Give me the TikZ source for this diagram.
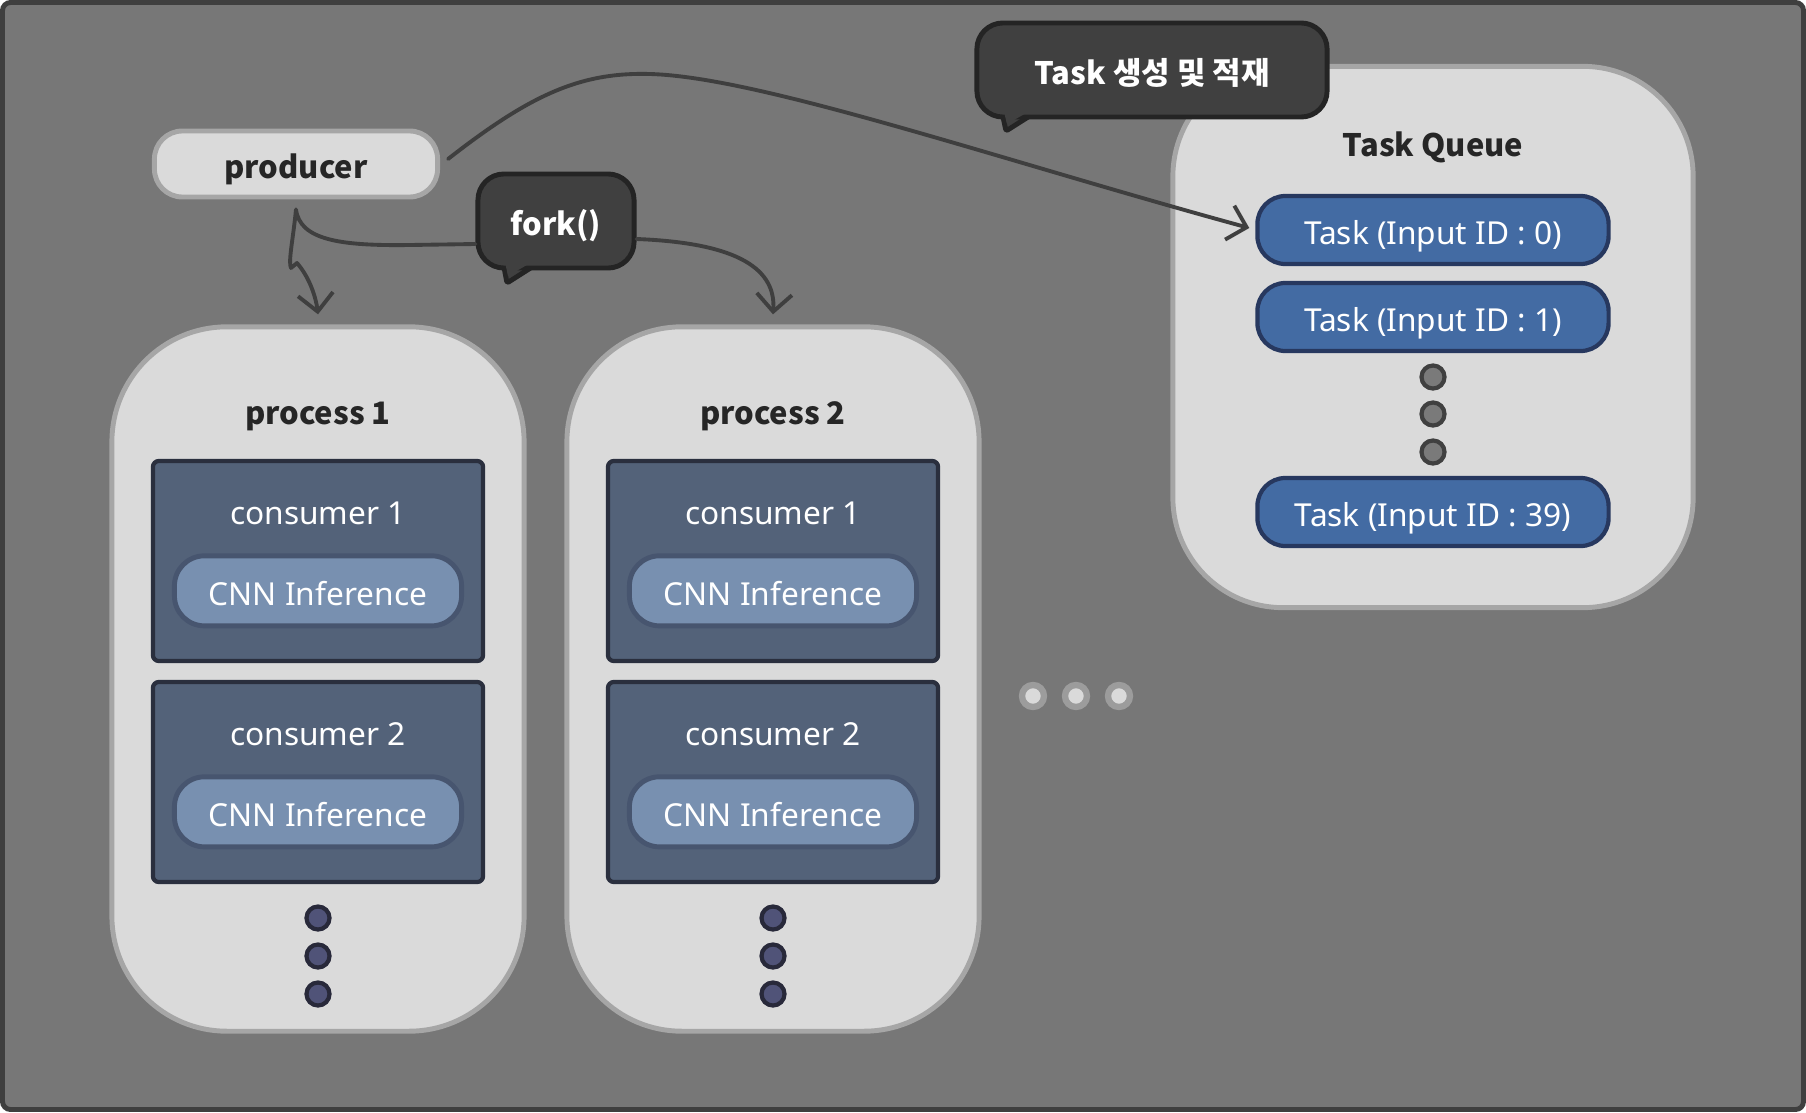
\documentclass[tikz,border=0pt]{standalone}
\usepackage{fontspec}
\setmainfont{Noto Sans}
\newfontfamily\krfont{Noto Sans CJK KR}
\usetikzlibrary{calc, arrows.meta, positioning}

\definecolor{bgc}{HTML}{777777}
\definecolor{framec}{HTML}{3F3F3F}
\definecolor{lightc}{HTML}{DADADA}
\definecolor{lightb}{HTML}{A6A6A6}
\definecolor{inkc}{HTML}{262626}
\definecolor{bubc}{HTML}{404040}
\definecolor{bubb}{HTML}{242424}
\definecolor{taskc}{HTML}{436BA3}
\definecolor{taskb}{HTML}{27385F}
\definecolor{consc}{HTML}{536279}
\definecolor{consb}{HTML}{2A2F3E}
\definecolor{cnnc}{HTML}{7890B0}
\definecolor{cnnb}{HTML}{47556F}
\definecolor{dotdc}{HTML}{505378}
\definecolor{dotdb}{HTML}{28293A}
\definecolor{dotgc}{HTML}{7A7A7A}
\definecolor{dotlb}{HTML}{9C9C9C}

\tikzset{lbox/.style={draw=lightb, fill=lightc, line width=1.4pt},
        proc/.style={lbox, minimum width=4.12cm, minimum height=7.04cm, rounded corners=1.15cm},
        btxt/.style={text=inkc, font=\fontsize{8.8}{11}\krfont\bfseries, text height=0.85em, text depth=0pt},
        wtxt/.style={text=white, font=\fontsize{9}{11}\selectfont, text height=0.85em, text depth=0pt},
        cons/.style={draw=consb, fill=consc, line width=1.2pt, minimum width=3.3cm, minimum height=2cm, rounded corners=0.06cm},
        cnn/.style={wtxt, draw=cnnb, fill=cnnc, line width=1.4pt, minimum width=2.87cm, minimum height=0.7cm, rounded corners=0.3cm},
        task/.style={wtxt, draw=taskb, fill=taskc, line width=1.2pt, minimum width=3.51cm, minimum height=0.68cm, rounded corners=0.28cm},
        bub/.style={draw=bubb, fill=bubc, line width=1.4pt, rounded corners=0.26cm, text=white, font=\fontsize{8.8}{11}\krfont\bfseries, text height=0.85em, text depth=0pt},
        tail/.style={draw=bubb, fill=bubc, line width=1.4pt, line join=round, rounded corners=0.02cm},
        dotd/.style={circle, draw=dotdb, fill=dotdc, line width=1.2pt, minimum size=0.23cm, inner sep=0pt},
        dotg/.style={circle, draw=bubc, fill=dotgc, line width=1.2pt, minimum size=0.23cm, inner sep=0pt},
        dotl/.style={circle, draw=dotlb, fill=lightc, line width=1.8pt, minimum size=0.22cm, inner sep=0pt},
        conn/.style={draw=framec, line width=1.1pt, line cap=round, line join=round},
        tip/.style={-{Straight Barb[length=5pt, width=10pt, line width=1.1pt]}}}

\begin{document}
\begin{tikzpicture}[x=0.01cm, y=-0.01cm]
    \useasboundingbox (0,0) rectangle (1806,1112);
    \draw[line width=1.4pt, draw=framec, fill=bgc, rounded corners=0.08cm] (2.5,2.5) rectangle (1803.5,1109.5);

    % producer
    \node[lbox, btxt, minimum width=2.83cm, minimum height=0.66cm, rounded corners=0.28cm] (prod) at (296,164) {producer};

    % processes with their consumers
    \foreach \p/\x in {1/318, 2/773} {
      \node[proc] (p\p) at (\x,679) {};
      \node[btxt] (p\p t) at (\x,410) {process \p};
      \foreach \c/\y in {1/561, 2/782} {
        \node[cons] (p\p c\c) at (\x,\y) {};
        \node[wtxt] (p\p c\c t) at ($(p\p c\c.north)+(0,51)$) {consumer \c};
        \node[cnn] (p\p n\c) at ($(p\p c\c.north)+(0,132)$) {CNN Inference};
      }
      \foreach \y in {918,956,994}
        \node[dotd] at (\x,\y) {};
    }

    % more processes
    \foreach \x in {1033,1076,1119}
      \node[dotl] at (\x,696) {};

    % task queue
    \node[lbox, minimum width=5.2cm, minimum height=5.41cm, rounded corners=1.1cm] (queue) at (1433,337) {};
    \node[btxt] (qt) at (1433,142) {Task Queue};
    \node[task] (t0) at (1433,230) {Task (Input ID : 0)};
    \node[task] (t1) at (1433,317) {Task (Input ID : 1)};
    \node[task] (t39) at (1433,512) {Task (Input ID : 39)};
    \foreach \y in {377,414,452}
      \node[dotg] at (1433,\y) {};

    % speech bubbles
    \draw[tail] (503,262) -- (507,283) -- (540,262);
    \node[bub, minimum width=1.56cm, minimum height=0.94cm] (fork) at (556,221) {fork()};
    \fill[bubc] (505,262) -- (508,276) -- (532,262) -- cycle;
    \draw[tail] (1002,112) -- (1006,131) -- (1036,112);
    \node[bub, minimum width=3.5cm, minimum height=0.94cm] (tbub) at (1152,70) {Task 생성 및 적재};
    \fill[bubc] (1004,112) -- (1007,124) -- (1028,112) -- cycle;

    % connectors
    \coordinate (pfork) at ($(prod.south)+(0,10)$);
    \draw[conn, tip] (pfork) .. controls (293,240) and (288,262) .. (291,268) -- (297,263)
      .. controls (310,278) and (316,298) .. ($(p1.north)+(0,-10)$);
    \draw[conn] (pfork) .. controls (300,240) and (340,246) .. (410,245) -- ($(fork.west)+(0,23)$);
    \draw[conn, tip] ($(fork.east)+(0,18)$) .. controls (740,243) and (776,270) .. ($(p2.north)+(0,-10)$);
    \draw[conn, tip] ($(prod.east)+(8,-5)$) .. controls (530,95) and (580,72) .. (650,74)
      .. controls (760,77) and (1000,160) .. ($(t0.west)+(-6,-2)$);
\end{tikzpicture}
\end{document}
